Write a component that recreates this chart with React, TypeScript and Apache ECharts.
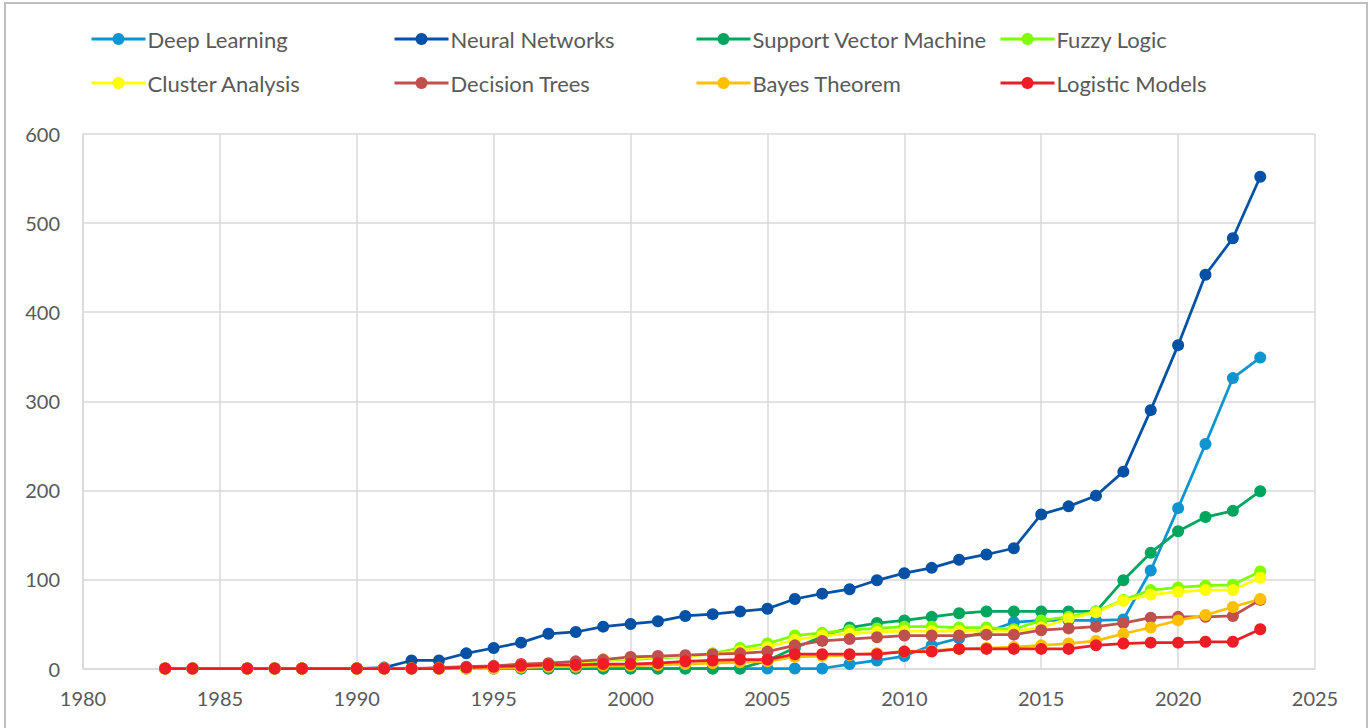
import React, { useEffect, useRef } from "react";
import * as echarts from "echarts";

const years = [1983, 1984, 1986, 1987, 1988, 1990, 1991, 1992, 1993, 1994, 1995, 1996, 1997, 1998, 1999, 2000, 2001, 2002, 2003, 2004, 2005, 2006, 2007, 2008, 2009, 2010, 2011, 2012, 2013, 2014, 2015, 2016, 2017, 2018, 2019, 2020, 2021, 2022, 2023];

const early = [0, 0, 0, 0, 0, 0, 0];

const deepLearning = [...early, 0, 0, 0, 0, 0, 0, 0, 0, 0, 0, 0, 0, 0, 0, 0, 0, 5, 9, 14, 26, 34, 41, 52, 54, 54, 54, 55, 110, 180, 252, 326, 349];
const neuralNetworks = [0, 0, 0, 0, 0, 0, 1, 9, 9, 17, 23, 29, 39, 41, 47, 50, 53, 59, 61, 64, 67, 78, 84, 89, 99, 107, 113, 122, 128, 135, 173, 182, 194, 221, 290, 363, 442, 483, 552];
const svm = [...early, 0, 0, 0, 0, 0, 0, 0, 0, 0, 0, 0, 0, 0, 9, 23, 36, 46, 51, 54, 58, 62, 64, 64, 64, 64, 64, 99, 130, 154, 170, 177, 199];
const fuzzyLogic = [...early, 0, 0, 0, 1, 2, 3, 5, 9, 10, 12, 13, 17, 23, 28, 37, 40, 43, 45, 47, 47, 46, 46, 44, 54, 58, 64, 77, 88, 91, 93, 94, 109];
const clusterAnalysis = [...early, 0, 0, 0, 1, 3, 4, 6, 10, 11, 13, 14, 16, 20, 24, 32, 37, 39, 41, 42, 42, 42, 42, 42, 46, 56, 63, 76, 83, 86, 88, 88, 102];
const decisionTrees = [...early, 0, 1, 2, 3, 5, 6, 8, 10, 13, 14, 15, 16, 17, 19, 26, 31, 33, 35, 37, 37, 37, 38, 38, 43, 45, 47, 51, 57, 58, 58, 59, 77];
const bayesTheorem = [...early, 0, 0, 0, 0, 1, 2, 2, 3, 3, 4, 5, 6, 7, 8, 13, 14, 15, 17, 19, 20, 22, 23, 24, 26, 28, 31, 39, 46, 54, 60, 69, 78];
const logisticModels = [...early, 0, 0, 1, 2, 3, 4, 4, 5, 5, 6, 8, 9, 10, 10, 16, 16, 16, 16, 19, 19, 22, 22, 22, 22, 22, 26, 28, 29, 29, 30, 30, 44];

const seriesNames = ["Deep Learning", "Neural Networks", "Support Vector Machine", "Fuzzy Logic", "Cluster Analysis", "Decision Trees", "Bayes Theorem", "Logistic Models"];
const seriesValues = [deepLearning, neuralNetworks, svm, fuzzyLogic, clusterAnalysis, decisionTrees, bayesTheorem, logisticModels];
const seriesColors = ["#0E94D0", "#0451A5", "#00A65D", "#80FF00", "#FFFF00", "#C0504D", "#FFC000", "#EE1C24"];

const legendCols = [90, 393, 695, 999];
const legendRows = [28, 72];

const FONT = "Lato";
const TEXT_COLOR = "#595959";

export default function App() {
  const ref = useRef<HTMLDivElement>(null);
  useEffect(() => {
    if (!ref.current) return;
    const chart = echarts.init(ref.current, undefined, { renderer: "svg" });
    const legends = seriesNames.map((name, i) => ({
      data: [name],
      left: legendCols[i % 4],
      top: legendRows[Math.floor(i / 4)],
      padding: 0,
      itemWidth: 54,
      itemHeight: 15,
      itemGap: 0,
      lineStyle: { width: 3 },
      textStyle: { fontFamily: FONT, fontSize: 22, color: TEXT_COLOR, padding: [0, 0, 0, -3] },
      selectedMode: false,
    }));
    chart.setOption({
      animation: false,
      backgroundColor: "#ffffff",
      graphic: [
        {
          type: "rect",
          shape: { x: 5, y: 3, width: 1362, height: 760 },
          style: { fill: "none", stroke: "#BFBFBF", lineWidth: 2 },
          silent: true,
        },
      ],
      legend: legends,
      grid: { left: 83, right: 57, top: 134, bottom: 59.5, containLabel: false },
      xAxis: {
        type: "value",
        min: 1980,
        max: 2025,
        interval: 5,
        axisLine: { show: true, lineStyle: { color: "#D9D9D9", width: 1.5 } },
        axisTick: { show: false },
        splitLine: { show: true, lineStyle: { color: "#D9D9D9", width: 1.5 } },
        axisLabel: { fontFamily: FONT, fontSize: 20, color: TEXT_COLOR, margin: 19, formatter: (v: number) => String(v) },
      },
      yAxis: {
        type: "value",
        min: 0,
        max: 600,
        interval: 100,
        axisLine: { show: true, lineStyle: { color: "#D9D9D9", width: 1.5 } },
        axisTick: { show: false },
        splitLine: { show: true, lineStyle: { color: "#D9D9D9", width: 1.5 } },
        axisLabel: { fontFamily: FONT, fontSize: 20, color: TEXT_COLOR, margin: 23 },
      },
      series: seriesNames.map((name, i) => ({
        name,
        type: "line",
        data: years.map((y, j) => [y, seriesValues[i][j]]),
        symbol: "circle",
        symbolSize: 12,
        color: seriesColors[i],
        lineStyle: { width: 2.75, color: seriesColors[i] },
        itemStyle: { color: seriesColors[i] },
        emphasis: { disabled: true },
      })),
    });
    return () => chart.dispose();
  }, []);
  return (
    <div style={{ position: "fixed", left: 0, top: 0, width: 1372, height: 728 }}>
      <div ref={ref} style={{ width: 1372, height: 728 }} />
    </div>
  );
}
